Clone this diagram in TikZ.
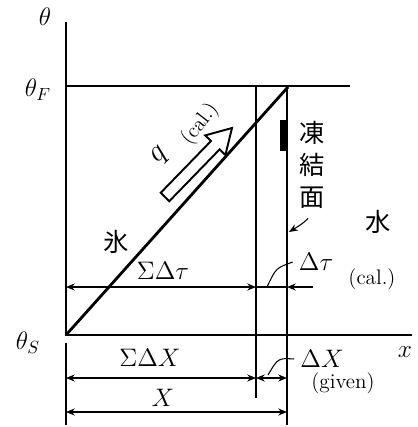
\documentclass[tikz,border=0pt]{standalone}
\usepackage{fontspec}
\newfontfamily\jpfont{Noto Sans CJK JP}
\usetikzlibrary{arrows.meta}

\begin{document}
\begin{tikzpicture}[x=0.02cm,y=-0.02cm,>={Stealth[length=5pt,width=4pt]},
    axis/.style={line width=1.6pt},
    guide/.style={line width=0.9pt},
    dim/.style={line width=0.6pt},
    lbl/.style={font=\Large},
    jp/.style={font=\Large\jpfont}]

\useasboundingbox (0,0) rectangle (417,427);

% --------------------------------------------------
% Axes, melting temperature and solidification line
% --------------------------------------------------
\coordinate (top) at (66,22);
\coordinate (O) at (66,335);
\coordinate (xend) at (412,335);
\coordinate (Fl) at (66,86);
\coordinate (Fr) at (350,86);
\coordinate (tip) at (288,87);

\draw[axis] (top) -- (O) -- (xend);
\draw[axis] (Fl) -- (Fr);
\draw[axis] (O) -- (tip);

\node[lbl] (theta) at (45,17) {$\theta$};
\node[lbl] (thF) at (38,90) {$\theta_F$};
\node[lbl] (thS) at (28,343) {$\theta_S$};
\node[lbl] (xlab) at (405,352) {$x$};

% --------------------------------------------------
% Vertical guide lines (previous and new front)
% --------------------------------------------------
\coordinate (a1) at (256,86);
\coordinate (a2) at (256,398);
\coordinate (b1) at (287,86);
\coordinate (b2) at (287,425);
\coordinate (c1) at (66,343);
\coordinate (c2) at (66,425);

\draw[guide] (a1) -- (a2);
\draw[guide] (b1) -- (b2);
\draw[guide] (c1) -- (c2);

% thick mark on the front
\coordinate (m1) at (283,120);
\coordinate (m2) at (283,151);
\draw[line width=3.5pt] (m1) -- (m2);

% --------------------------------------------------
% Heat flux arrow
% --------------------------------------------------
\draw[line width=1.1pt,fill=white]
    (169.3,201.2) -- (219.6,149.4) -- (225.4,155) -- (232,128)
    -- (205.2,135.4) -- (211,141) -- (160.7,192.8) -- cycle;
\node[font=\LARGE,rotate=45] (qlab) at (160,156) {$q$};
\node[font=\large,rotate=52] (qcal) at (200,124) {(cal.)};

% --------------------------------------------------
% Phase labels
% --------------------------------------------------
\node[jp] (ice) at (116,242) {氷};
\node[jp] (water) at (378,222) {水};
\node[jp,align=center] (front) at (312,165) {凍\\結\\面};
\coordinate (fr) at (289,232);
\draw[dim,->] (front.south) ++(-4,4) .. controls (302,224) .. (fr);

% --------------------------------------------------
% Time dimensions
% --------------------------------------------------
\coordinate (st1) at (66,287);
\coordinate (st2) at (256,287);
\coordinate (dt1) at (287,287);
\coordinate (dt2) at (313,287);

\draw[dim,<->] (st1) -- (st2);
\draw[dim] (st2) -- (dt1);
\draw[dim,->] (dt2) -- (dt1);

\node[lbl] (sumtau) at (163,271) {$\Sigma\Delta\tau$};
\node[lbl] (dtau) at (316,262) {$\Delta\tau$};
\node[font=\large] (dtaucal) at (372,279) {(cal.)};
\coordinate (tl) at (267,287);
\draw[dim] (tl) .. controls (276,268) .. (dtau.west);

% --------------------------------------------------
% Length dimensions
% --------------------------------------------------
\coordinate (sx1) at (66,378);
\coordinate (sx2) at (256,378);
\coordinate (dx2) at (287,378);
\coordinate (xx1) at (66,412);
\coordinate (xx2) at (287,412);

\draw[dim,<->] (sx1) -- (sx2);
\draw[dim,<->] (sx2) -- (dx2);
\draw[dim,<->] (xx1) -- (xx2);

\node[lbl] (sumx) at (150,358) {$\Sigma\Delta X$};
\node[lbl] (xlen) at (163,398) {$X$};
\node[lbl] (dx) at (322,359) {$\Delta X$};
\node[font=\large] (given) at (343,383) {(given)};
\coordinate (xl) at (268,375);
\draw[dim] (xl) .. controls (278,358) .. (dx.west);

\end{tikzpicture}
\end{document}
